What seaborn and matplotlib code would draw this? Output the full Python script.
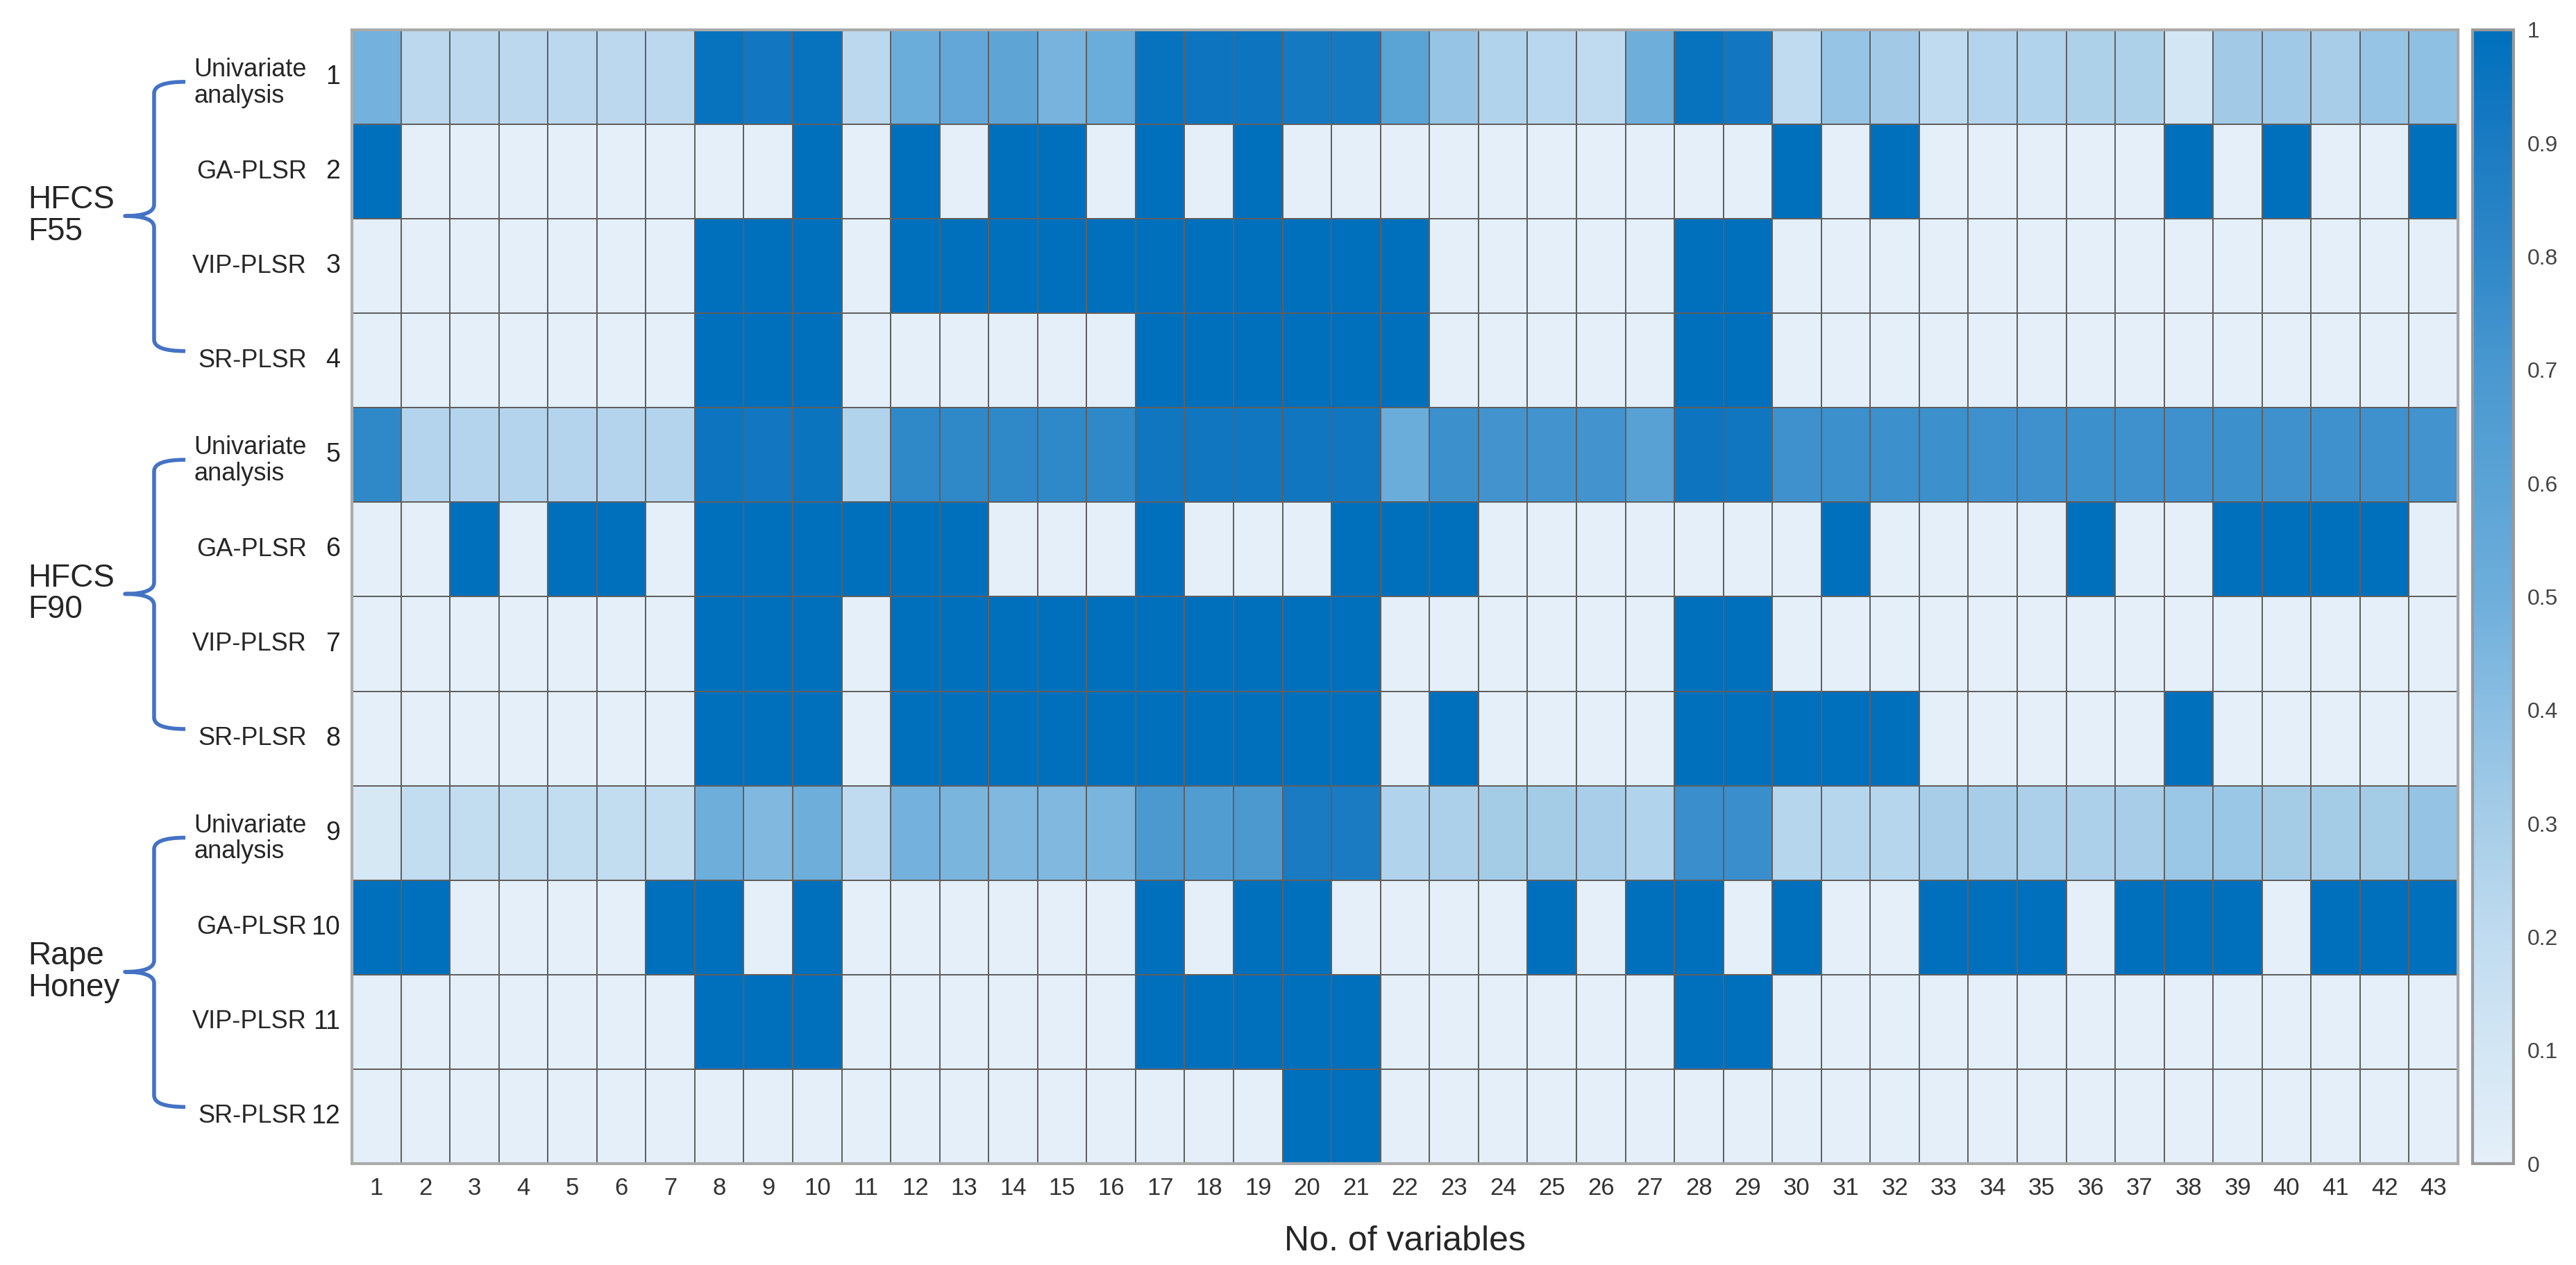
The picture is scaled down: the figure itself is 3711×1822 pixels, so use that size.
import numpy as np
import pandas as pd
import matplotlib
matplotlib.use("Agg")
import matplotlib.pyplot as plt
import matplotlib.transforms as mtransforms
from matplotlib.colors import LinearSegmentedColormap
from matplotlib.path import Path
from matplotlib.patches import PathPatch
import seaborn as sns

# ── data ──────────────────────────────────────────────────────────────────────
variables = list(range(1, 44))
row_ids = list(range(1, 13))
groups = ["HFCS\nF55", "HFCS\nF90", "Rape\nHoney"]
methods = ["Univariate\nanalysis", "GA-PLSR", "VIP-PLSR", "SR-PLSR"]

# univariate analysis (normalised score per variable)
uni_f55 = [0.48, 0.22, 0.22, 0.22, 0.22, 0.22, 0.22, 0.97, 0.93, 0.97,
           0.22, 0.52, 0.56, 0.58, 0.47, 0.52, 0.97, 0.95, 0.95, 0.92,
           0.92, 0.60, 0.36, 0.26, 0.23, 0.20, 0.50, 0.97, 0.93, 0.20,
           0.36, 0.32, 0.20, 0.25, 0.26, 0.27, 0.27, 0.10, 0.32, 0.33,
           0.30, 0.36, 0.39]
uni_f90 = [0.80, 0.25, 0.25, 0.25, 0.25, 0.25, 0.25, 0.95, 0.93, 0.96,
           0.26, 0.80, 0.80, 0.80, 0.80, 0.80, 0.94, 0.94, 0.94, 0.94,
           0.94, 0.52, 0.75, 0.73, 0.73, 0.73, 0.62, 0.95, 0.94, 0.74,
           0.75, 0.75, 0.75, 0.74, 0.74, 0.75, 0.74, 0.74, 0.75, 0.74,
           0.74, 0.74, 0.73]
uni_rape = [0.08, 0.19, 0.19, 0.19, 0.19, 0.19, 0.19, 0.50, 0.44, 0.50,
            0.20, 0.48, 0.46, 0.44, 0.44, 0.46, 0.69, 0.66, 0.69, 0.90,
            0.90, 0.26, 0.28, 0.31, 0.31, 0.29, 0.26, 0.76, 0.76, 0.24,
            0.24, 0.24, 0.30, 0.30, 0.28, 0.28, 0.30, 0.34, 0.34, 0.31,
            0.31, 0.31, 0.37]

# variables selected by each regression method
ga_f55 = [1, 10, 12, 14, 15, 17, 19, 30, 32, 38, 40, 43]
vip_f55 = [8, 9, 10, 12, 13, 14, 15, 16, 17, 18, 19, 20, 21, 22, 28, 29]
sr_f55 = [8, 9, 10, 17, 18, 19, 20, 21, 22, 28, 29]
ga_f90 = [3, 5, 6, 8, 9, 10, 11, 12, 13, 17, 21, 22, 23, 31, 36, 39, 40, 41, 42]
vip_f90 = [8, 9, 10, 12, 13, 14, 15, 16, 17, 18, 19, 20, 21, 28, 29]
sr_f90 = [8, 9, 10, 12, 13, 14, 15, 16, 17, 18, 19, 20, 21, 23, 28, 29, 30,
          31, 32, 38]
ga_rape = [1, 2, 7, 8, 10, 17, 19, 20, 25, 27, 28, 30, 33, 34, 35, 37, 38,
           39, 41, 42, 43]
vip_rape = [8, 9, 10, 17, 18, 19, 20, 21, 28, 29]
sr_rape = [20, 21]

cbar_ticks = [0, 0.1, 0.2, 0.3, 0.4, 0.5, 0.6, 0.7, 0.8, 0.9, 1]
cbar_labels = ["0", "0.1", "0.2", "0.3", "0.4", "0.5", "0.6", "0.7", "0.8", "0.9", "1"]


def picked(sel):
    return [1.0 if v in sel else 0.0 for v in variables]


rows = [uni_f55, picked(ga_f55), picked(vip_f55), picked(sr_f55),
        uni_f90, picked(ga_f90), picked(vip_f90), picked(sr_f90),
        uni_rape, picked(ga_rape), picked(vip_rape), picked(sr_rape)]
df = pd.DataFrame(rows, index=row_ids, columns=variables)

# ── plot ──────────────────────────────────────────────────────────────────────
sns.set_style("white")
plt.rcParams["font.family"] = ["Liberation Sans", "DejaVu Sans"]

cmap = LinearSegmentedColormap.from_list(
    "selblue", ["#e4eff9", "#d3e6f4", "#c0dbf0", "#a7cde8", "#8bbee2", "#6eaedb",
                "#5aa3d5", "#4a98d0", "#2f88c8", "#1b7bc2", "#0070bd"])

W, H = 3711, 1822
fig = plt.figure(figsize=(W / 100, H / 100), dpi=100)
L, R, T, B = 507, 3541, 43, 1676
ax = fig.add_axes([L / W, 1 - B / H, (R - L) / W, (B - T) / H])
cax = fig.add_axes([3562 / W, 1 - B / H, 59 / W, (B - T) / H])

sns.heatmap(df, ax=ax, cbar_ax=cax, cmap=cmap, vmin=0, vmax=1,
            linewidths=1.4, linecolor="#5f5f5f",
            cbar_kws={"ticks": cbar_ticks})

ax.set_xlabel("No. of variables", fontsize=36, labelpad=26)
ax.set_ylabel("")
ax.tick_params(axis="x", length=0, pad=14, labelsize=25, labelcolor="#333333")
ax.tick_params(axis="y", length=0, pad=12, labelsize=27, labelcolor="#222222")
plt.setp(ax.get_yticklabels(), rotation=0)
plt.setp(ax.get_xticklabels(), rotation=0)
for sp in ax.spines.values():
    sp.set_visible(True)
    sp.set_color("#aaaaaa")
    sp.set_linewidth(3)

# colorbar
cax.set_yticklabels(cbar_labels)
cax.tick_params(direction="in", length=12, width=1.5, color="#555555",
                labelsize=23, labelcolor="#444444", pad=14)
cb = ax.collections[0].colorbar
cb.outline.set_edgecolor("#999999")
cb.outline.set_linewidth(3)

# row labels, group labels and braces to the left of the heatmap
def px(x):
    return (x - L) / (R - L)


trans = mtransforms.blended_transform_factory(ax.transAxes, ax.transData)
brace_col = "#4472c4"
for g, name in enumerate(groups):
    start = g * 4
    for k, m in enumerate(methods):
        yc = start + k + 0.5
        dy = 0.06 if "\n" in m else 0.0
        ax.text(px(442), yc + dy, m, transform=trans, ha="right", va="center",
                fontsize=26, multialignment="left", linespacing=1.1)
    y0, ym, y1 = start + 0.55, start + 1.97, start + 3.4
    xa, xv, xt = px(267), px(222), px(180)
    r = 0.12
    verts = [(xa, y0), (xv, y0), (xv, y0 + r),
             (xv, ym - r), (xv, ym), (xt, ym),
             (xv, ym), (xv, ym + r),
             (xv, y1 - r), (xv, y1), (xa, y1)]
    codes = [Path.MOVETO, Path.CURVE3, Path.CURVE3,
             Path.LINETO, Path.CURVE3, Path.CURVE3,
             Path.CURVE3, Path.CURVE3,
             Path.LINETO, Path.CURVE3, Path.CURVE3]
    ax.add_patch(PathPatch(Path(verts, codes), transform=trans, fill=False,
                           ec=brace_col, lw=4, clip_on=False,
                           capstyle="butt", joinstyle="round"))
    ax.text(px(40), ym, name, transform=trans, ha="left", va="center",
            fontsize=33, linespacing=1.05)

fig.savefig("out.png", dpi=100, facecolor="white")
